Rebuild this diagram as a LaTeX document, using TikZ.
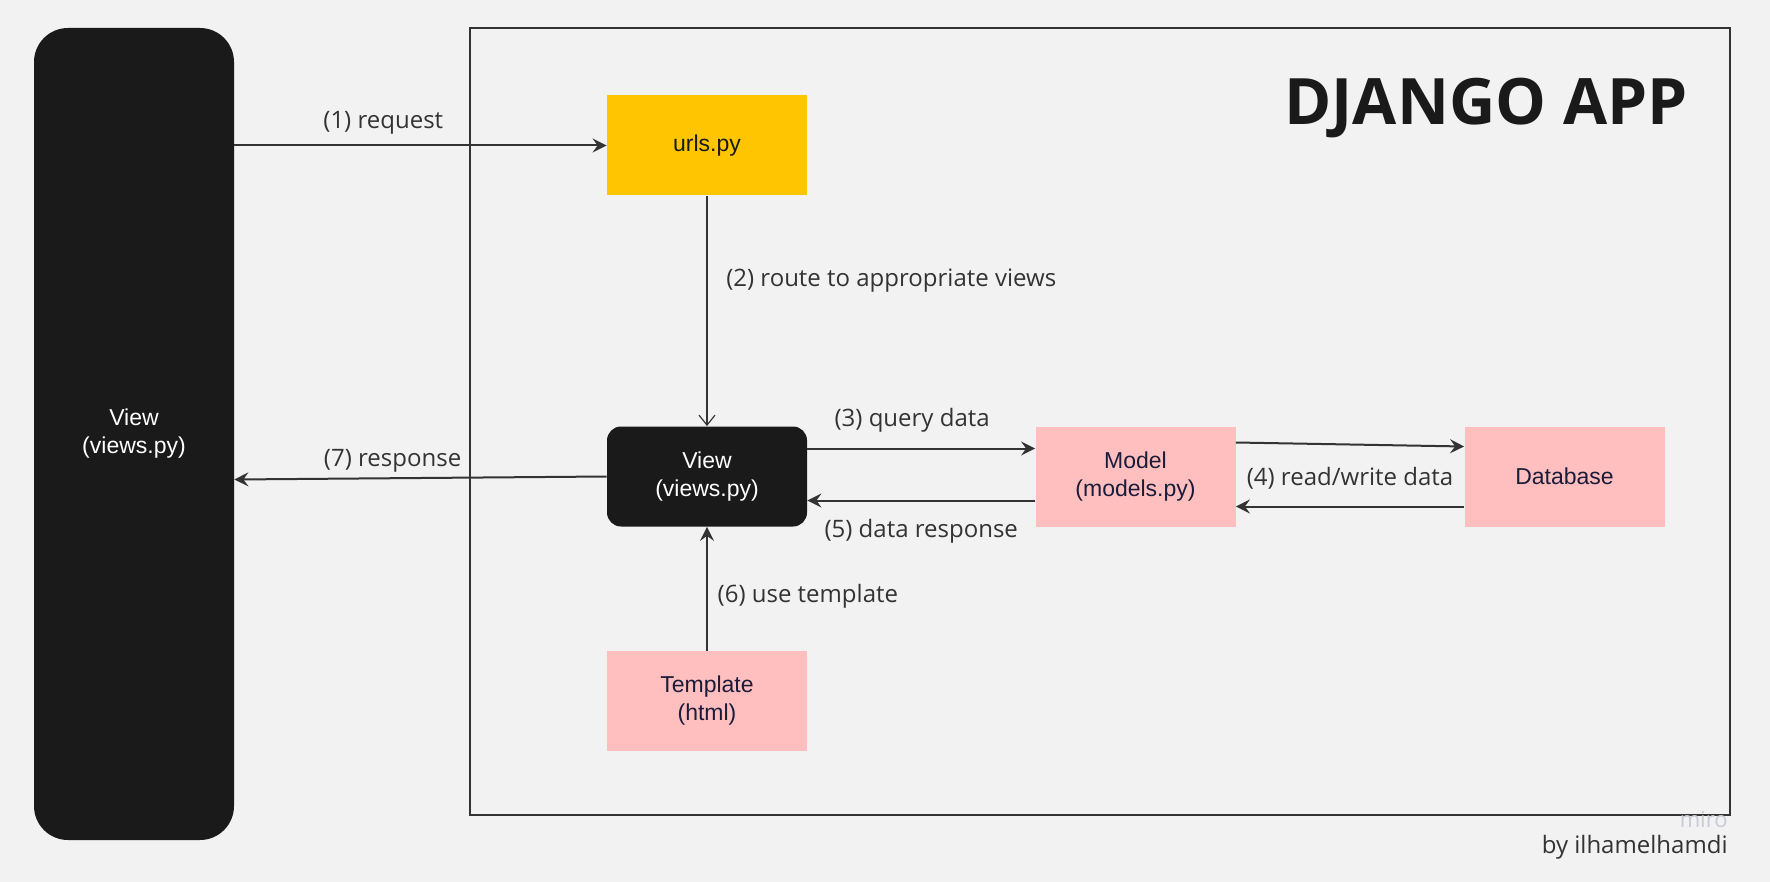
\documentclass[tikz,border=0pt]{standalone}
\usepackage{fontspec}
\usepackage{tikz}
\usetikzlibrary{arrows.meta, positioning}
\newfontfamily\labelfont{Open Sans}
\newfontfamily\boxfont{Liberation Sans}
\definecolor{bgColor}{RGB}{242, 242, 242}
\definecolor{darkBox}{RGB}{26, 26, 26}
\definecolor{urlsColor}{RGB}{255, 198, 0}
\definecolor{pinkColor}{RGB}{255, 191, 191}
\definecolor{inkColor}{RGB}{27, 27, 58}
\definecolor{lineColor}{RGB}{51, 51, 51}
\definecolor{miroColor}{RGB}{200, 202, 214}

\begin{document}
\begin{tikzpicture}[
    x=0.5pt, y=-0.5pt,
    block/.style={
        rectangle,
        fill=#1,
        minimum width=100pt,
        minimum height=50pt,
        inner sep=0pt,
        align=center,
        font=\boxfont\fontsize{11.5}{14}\selectfont
    },
    darkblock/.style={
        block=darkBox,
        text=white,
        rounded corners=7pt
    },
    lbl/.style={
        font=\labelfont\fontsize{12}{14}\selectfont,
        text=lineColor
    },
    flow/.style={
        draw=lineColor,
        line width=1pt,
        -{Stealth[length=7pt, width=7pt, inset=2.5pt]}
    }
]
    % Background and frame
    \fill[bgColor] (0,0) rectangle (1770,882);
    \useasboundingbox (0,0) rectangle (1770,882);
    \draw[lineColor, line width=1pt] (470,28) rectangle (1730,815);

    % Title
    \node[font=\labelfont\bfseries\fontsize{32}{38}\selectfont, text=darkBox] (title) at (1486,108) {DJANGO APP};

    % Nodes
    \node[darkblock, minimum height=406pt, rounded corners=17pt] (client) at (134,434) {View\\(views.py)};
    \node[block=urlsColor, text=darkBox] (urls) at (707,145.5) {urls.py};
    \node[darkblock] (view) at (707,476.5) {View\\(views.py)};
    \node[block=pinkColor, text=inkColor] (model) at (1135.5,476.5) {Model\\(models.py)};
    \node[block=pinkColor, text=inkColor] (db) at (1564.5,476.5) {Database};
    \node[block=pinkColor, text=inkColor] (template) at (707,701) {Template\\(html)};

    % Connectors
    \draw[flow] (client.east |- urls.west) -- node[lbl, above=2pt, pos=0.4] {(1) request} (urls.west);
    \draw[draw=lineColor, line width=0.6pt, -{Straight Barb[length=5pt, width=8pt]}] (urls.south) -- node[lbl, right=6pt, pos=0.37] {(2) route to appropriate views} (view.north);
    \draw[flow] ([yshift=14pt]view.east) -- node[lbl, above=4.5pt, pos=0.46] {(3) query data} ([yshift=14pt]model.west);
    \draw[flow] ([yshift=17pt]model.east) -- ([yshift=15pt]db.west);
    \draw[flow] ([yshift=-15pt]db.west) -- ([yshift=-15pt]model.east);
    \path (model) -- node[lbl, yshift=-1pt] {(4) read/write data} (db);
    \draw[flow] ([yshift=-12pt]model.west) -- node[lbl, below=5.5pt] {(5) data response} ([yshift=-12pt]view.east);
    \draw[flow] (template.north) -- node[lbl, right=1.5pt, pos=0.44] {(6) use template} (view.south);
    \draw[flow] (view.west) -- node[lbl, above=-1pt, pos=0.575] {(7) response} ([yshift=-1.5pt]client.east |- view.west);

    % Credits
    \node[lbl, text=miroColor, font=\labelfont\fontsize{11}{12}\selectfont, anchor=east, inner sep=0pt] (miro) at (1728,820) {miro};
    \node[lbl, anchor=east, inner sep=0pt] (credit) at (1728,847) {by ilhamelhamdi};
\end{tikzpicture}
\end{document}
